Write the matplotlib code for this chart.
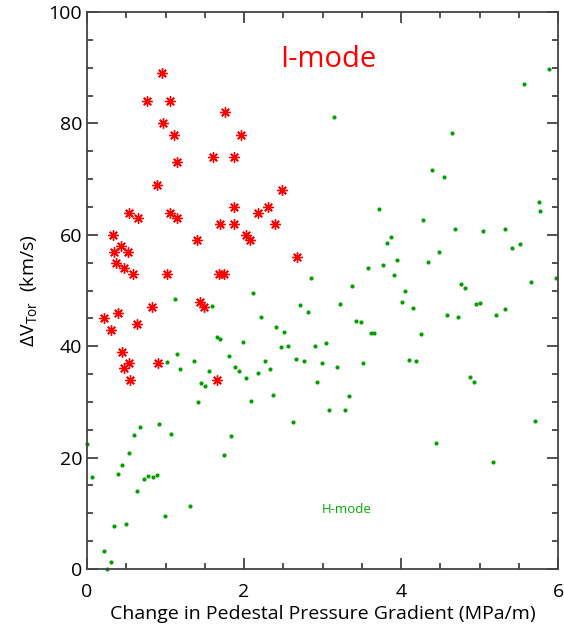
import matplotlib
matplotlib.use('Agg')
import matplotlib.pyplot as plt
from matplotlib.ticker import MultipleLocator

# I-mode points (red asterisks)
imode_x = [0.95, 0.77, 1.06, 1.76, 0.97, 1.11, 1.96, 1.14, 1.61, 1.87,
           0.89, 2.48, 0.53, 0.65, 1.06, 1.14, 1.87, 2.18, 2.30, 1.70,
           1.87, 2.40, 0.33, 2.03, 2.08, 1.40, 0.35, 0.43, 0.52, 0.37,
           0.47, 0.59, 1.02, 1.68, 1.74, 2.67, 0.21, 0.31, 0.39, 0.64,
           0.83, 1.44, 1.49, 0.44, 0.47, 0.54, 0.55, 0.90, 1.65]
imode_y = [89, 84, 84, 82, 80, 78, 78, 73, 74, 74,
           69, 68, 64, 63, 64, 63, 65, 64, 65, 62,
           62, 62, 60, 60, 59, 59, 57, 58, 57, 55,
           54, 53, 53, 53, 53, 56, 45, 43, 46, 44,
           47, 48, 47, 39, 36, 37, 34, 37, 34]

# H-mode points (green dots)
hmode_x = [3.15, 2.85, 2.11, 1.12, 1.59, 2.22, 2.71, 2.81, 3.22, 2.41,
           2.51, 1.66, 1.70, 1.99, 2.47, 2.56, 2.90, 3.04, 1.15, 1.02,
           1.36, 1.19, 1.81, 1.89, 1.94, 1.56, 2.27, 2.33, 2.66, 2.76,
           2.99, 3.19, 1.45, 1.50, 2.03, 2.18, 2.93, 2.37, 1.42, 2.09,
           3.08, 2.62, 0.92, 0.68, 0.60, 1.07, 1.84, 0.00, 0.54, 1.74,
           0.45, 0.39, 0.06, 0.73, 0.78, 0.84, 0.89, 0.64, 1.31, 0.99,
           0.35, 0.50, 0.21, 0.30, 0.25,
           5.89, 5.57, 4.65, 4.39, 4.55, 5.76, 5.77, 3.72, 4.28, 4.69,
           5.04, 5.33, 3.87, 3.82, 5.41, 5.52, 4.48, 3.95, 4.34, 3.58,
           3.77, 3.91, 3.38, 4.05, 4.77, 4.82, 5.66, 5.97,
           4.01, 4.15, 4.58, 4.72, 4.96, 5.01, 5.21, 5.32, 3.43, 3.49,
           3.62, 3.66, 4.25, 3.51, 4.10, 4.19, 3.34, 3.28, 4.88, 4.93,
           5.71, 4.44, 5.17]
hmode_y = [81.2, 52.2, 49.6, 48.4, 47.2, 45.3, 47.4, 46.2, 47.6, 43.5,
           42.5, 41.6, 41.3, 40.7, 39.8, 40.1, 40.1, 40.5, 38.6, 37.2,
           37.3, 35.9, 38.3, 36.3, 35.6, 35.6, 37.4, 35.9, 37.7, 37.3,
           36.9, 36.2, 33.4, 32.8, 34.3, 35.2, 33.5, 31.2, 29.9, 30.1,
           28.6, 26.4, 26.1, 25.5, 24.1, 24.3, 23.9, 22.4, 20.8, 20.5,
           18.7, 17.0, 16.5, 16.2, 16.7, 16.5, 16.9, 14.0, 11.4, 9.5,
           7.7, 8.0, 3.3, 1.3, 0.0,
           89.8, 87.0, 78.3, 71.7, 70.4, 65.9, 64.3, 64.6, 62.7, 61.1,
           60.7, 61.1, 59.6, 58.5, 57.6, 58.3, 56.9, 55.5, 55.2, 54.0,
           54.6, 52.8, 50.8, 50.0, 51.2, 50.4, 51.5, 52.3,
           48.0, 46.8, 45.6, 45.3, 47.5, 47.7, 45.6, 46.7, 44.6, 44.3,
           42.3, 42.3, 42.2, 37.0, 37.6, 37.4, 31.1, 28.6, 34.5, 33.6,
           26.5, 22.7, 19.2]

x_ticks = [0, 2, 4, 6]
y_ticks = [0, 20, 40, 60, 80, 100]

plt.rcParams['font.family'] = ['Open Sans', 'DejaVu Sans']
plt.rcParams['mathtext.fontset'] = 'custom'
plt.rcParams['mathtext.rm'] = 'Open Sans'

fig = plt.figure(figsize=(5.64, 6.28), dpi=100)
ax = fig.add_axes([0.1543, 0.0939, 0.8351, 0.887])

ax.plot(hmode_x, hmode_y, 'o', color='#00a000', markersize=3, markeredgewidth=0,
        clip_on=False)
ax.plot(imode_x, imode_y, linestyle='none', marker=(8, 2, 0), color='#ff0000',
        markersize=7.5, markeredgewidth=1.0)

ax.set_xlim(0, 6)
ax.set_ylim(0, 100)
ax.set_xticks(x_ticks)
ax.set_yticks(y_ticks)
ax.xaxis.set_minor_locator(MultipleLocator(0.5))
ax.yaxis.set_minor_locator(MultipleLocator(5))
ax.tick_params(which='both', direction='in', top=True, right=True,
               labelsize=14, color='#333333', width=1.2)
ax.tick_params(which='major', length=8)
ax.tick_params(which='minor', length=4)
ax.tick_params(axis='x', which='major', pad=10)
for s in ax.spines.values():
    s.set_linewidth(1.3)
    s.set_color('#444444')

ax.set_xlabel('Change in Pedestal Pressure Gradient (MPa/m)', fontsize=14, labelpad=3)
ax.set_ylabel(r'$\Delta$V$_{\rm Tor}$  (km/s)', fontsize=14, labelpad=6)

ax.text(3.07, 91.5, 'I-mode', color='#ff0000', fontsize=21, ha='center', va='center')
ax.text(3.31, 10.7, 'H-mode', color='#00b000', fontsize=9.5, ha='center', va='center')

fig.savefig('out.png', dpi=100)
